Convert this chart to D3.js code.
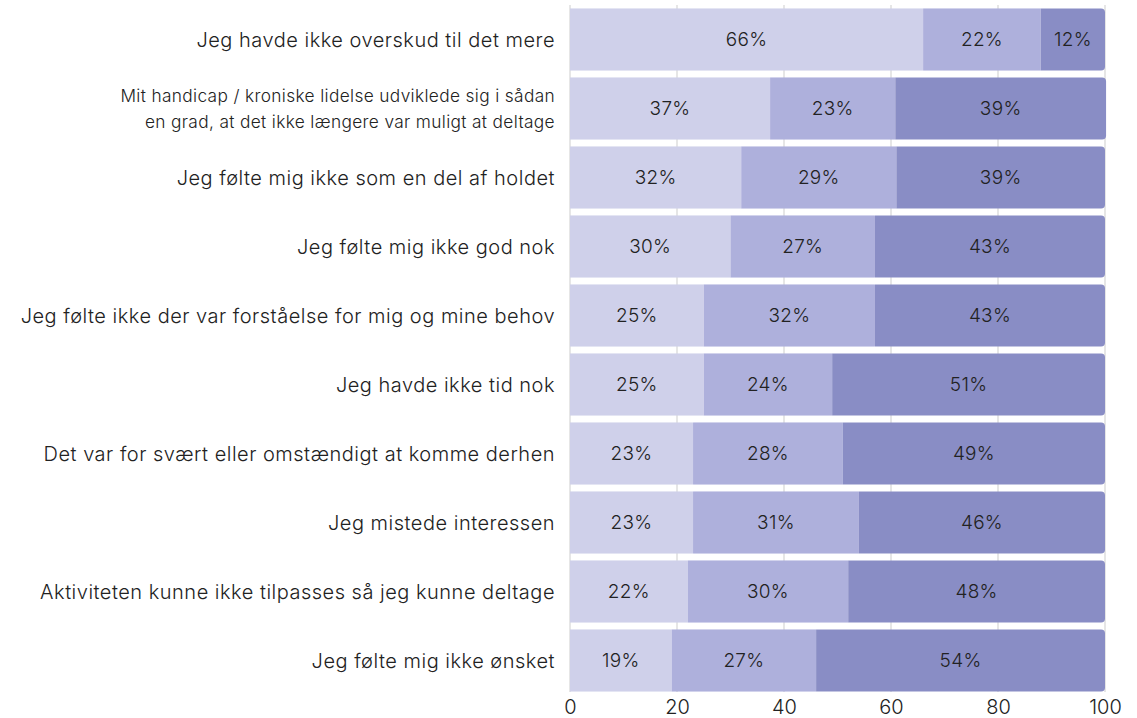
<!DOCTYPE html>
<html><head><meta charset="utf-8">
<script src="https://cdn.jsdelivr.net/npm/d3@7"></script>
<style>body{margin:0;background:#fff}svg{display:block}text{font-family:Inter,"Noto Sans",sans-serif;fill:#222}</style>
</head><body><svg id="c" width="1137" height="718"></svg>
<script>
const categories = [
 "Jeg havde ikke overskud til det mere",
 "Mit handicap / kroniske lidelse udviklede sig i sådan|en grad, at det ikke længere var muligt at deltage",
 "Jeg følte mig ikke som en del af holdet",
 "Jeg følte mig ikke god nok",
 "Jeg følte ikke der var forståelse for mig og mine behov",
 "Jeg havde ikke tid nok",
 "Det var for svært eller omstændigt at komme derhen",
 "Jeg mistede interessen",
 "Aktiviteten kunne ikke tilpasses så jeg kunne deltage",
 "Jeg følte mig ikke ønsket"
];
const series1 = [66, 37.4, 32, 30, 25, 25, 23, 23, 22, 19];
const series2 = [22, 23.4, 29, 27, 32, 24, 28, 31, 30, 27];
const series3 = [12, 39.4, 39, 43, 43, 51, 49, 46, 48, 54];
const xTicks = [0, 20, 40, 60, 80, 100];
const colors = ["#cfd0ea", "#aeb0dc", "#898dc5"];

const svg = d3.select("#c");
const x = d3.scaleLinear().domain([0, 100]).range([570, 1105]);
const y = d3.scaleBand().domain(categories).range([5, 695]).paddingInner(0.1).paddingOuter(0.05);

// gridlines
svg.append("g").selectAll("line").data(xTicks).join("line")
  .attr("x1", d => x(d)).attr("x2", d => x(d)).attr("y1", 5).attr("y2", 692)
  .attr("stroke", "#dedede").attr("stroke-width", 1.5);

const rows = categories.map((c, i) => ({c, v: [series1[i], series2[i], series3[i]]}));
const r = 4;
rows.forEach(row => {
  let acc = 0;
  const g = svg.append("g");
  row.v.forEach((v, j) => {
    const x0 = x(acc), x1 = x(acc + v), y0 = y(row.c), h = y.bandwidth();
    acc += v;
    if (j === 2) {
      g.append("path").attr("fill", colors[j])
        .attr("d", `M${x0},${y0}H${x1 - r}Q${x1},${y0} ${x1},${y0 + r}V${y0 + h - r}Q${x1},${y0 + h} ${x1 - r},${y0 + h}H${x0}Z`);
    } else {
      g.append("rect").attr("fill", colors[j]).attr("x", x0).attr("y", y0).attr("width", x1 - x0).attr("height", h);
    }
    g.append("text").attr("x", (x0 + x1) / 2).attr("y", y0 + h / 2).attr("dy", "0.35em")
      .attr("text-anchor", "middle").attr("font-size", 19).style("font-weight", 300)
      .style("letter-spacing", "0.3px").text(Math.round(v) + "%");
  });
});

// category labels
categories.forEach(c => {
  const lines = c.split("|");
  const multi = lines.length > 1;
  const t = svg.append("text").attr("text-anchor", "end").attr("x", 555)
    .attr("font-size", multi ? 17.3 : 20).style("font-weight", 300)
    .style("letter-spacing", multi ? "0.35px" : "0.5px");
  const cy = y(c) + y.bandwidth() / 2;
  const lh = 26;
  lines.forEach((l, k) => {
    t.append("tspan").attr("x", 555).attr("y", cy + (k - (lines.length - 1) / 2) * lh).attr("dy", "0.35em").text(l);
  });
});

// x axis
const ax = svg.append("g").attr("transform", "translate(0,700)")
  .call(d3.axisBottom(x).tickValues(xTicks).tickSize(0).tickPadding(0));
ax.select(".domain").remove();
ax.selectAll("text").attr("font-size", 20).attr("dy", "0.72em").style("font-weight", 300)
  .style("font-family", "Inter, 'Noto Sans', sans-serif").attr("fill", "#222");
</script></body></html>
